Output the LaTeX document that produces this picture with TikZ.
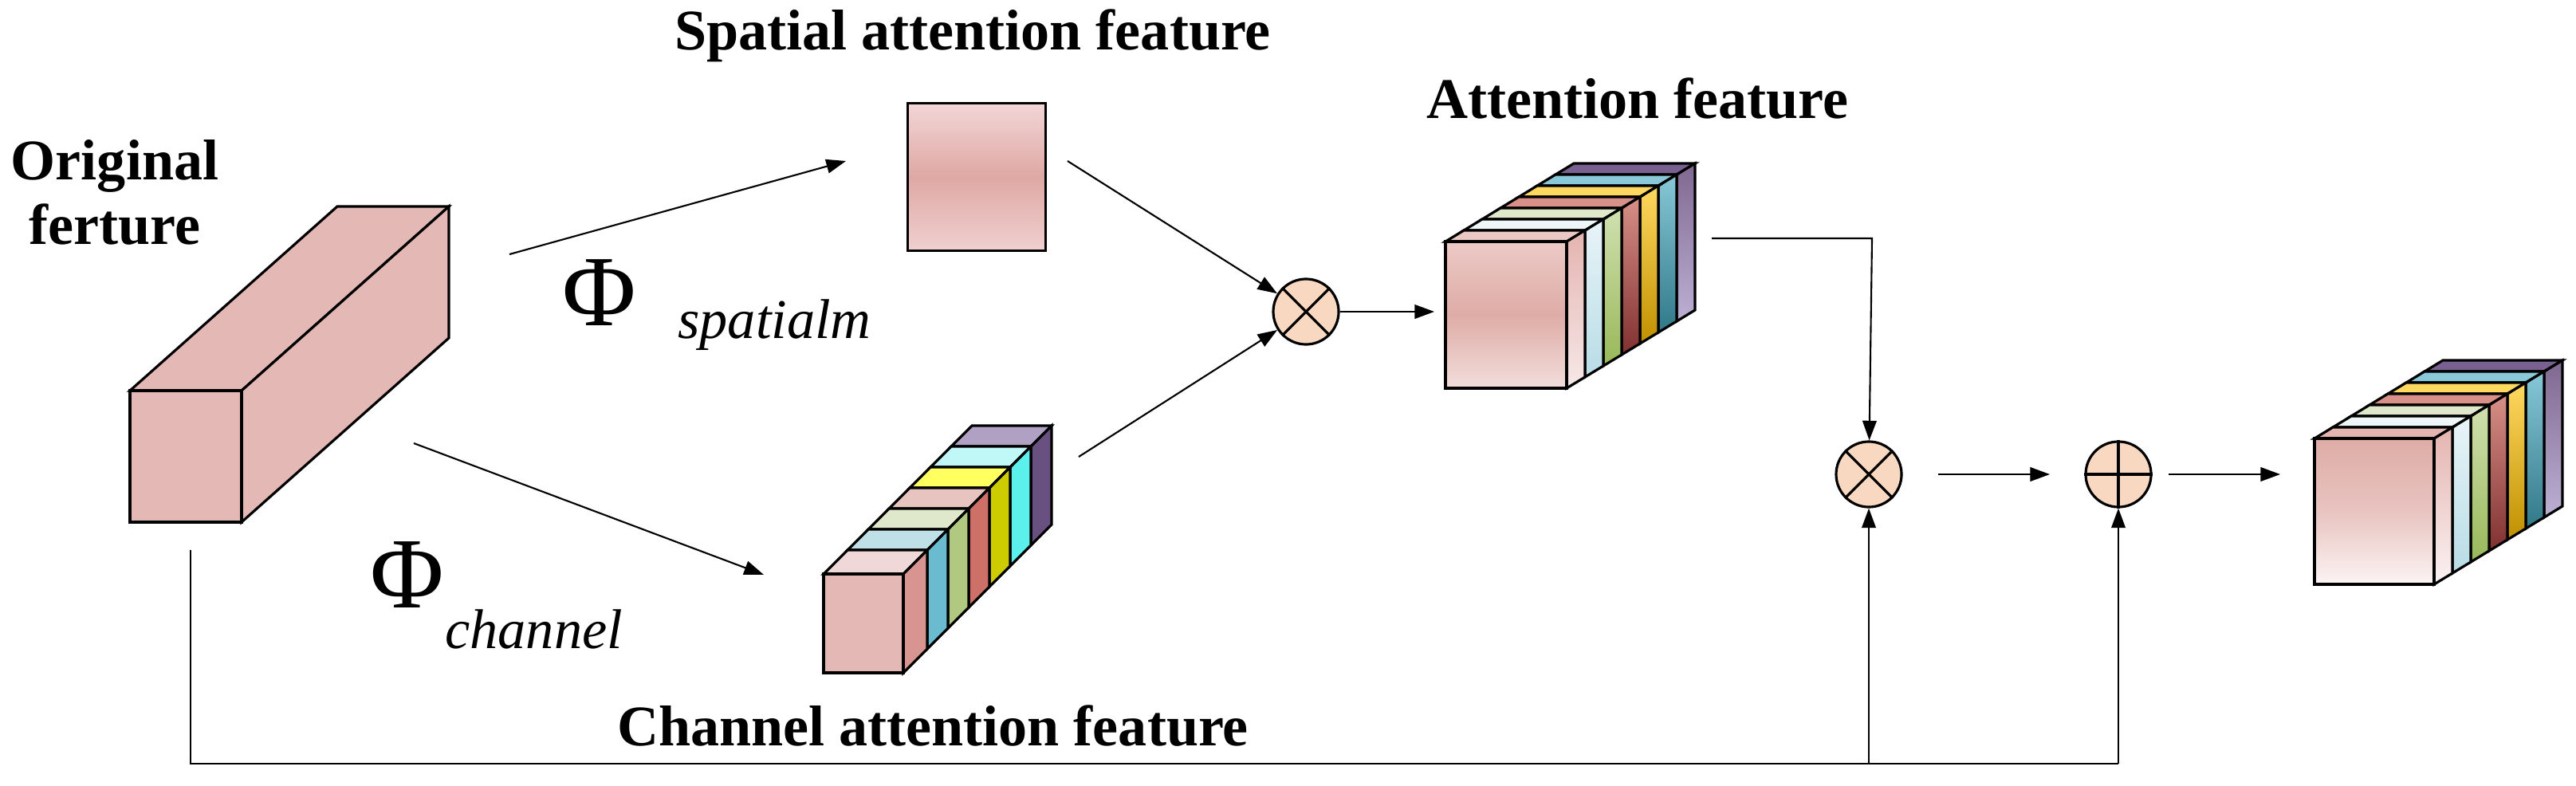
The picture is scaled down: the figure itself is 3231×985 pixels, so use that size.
\documentclass[tikz,border=0pt]{standalone}
\usepackage{fontspec}
\setmainfont{Liberation Serif}
\usetikzlibrary{arrows.meta}
\begin{document}
\begin{tikzpicture}[x=0.01cm,y=-0.01cm,line join=miter,
  ol/.style={line width=0.9pt},
  arr/.style={line width=0.6pt,-{Triangle[length=7pt,width=5pt]}},
  ln/.style={line width=0.6pt},
  op/.style={circle,draw,line width=0.9pt,fill=opc,minimum size=0.82cm,inner sep=0pt},
  lbl/.style={font=\fontsize{20.5}{23}\selectfont\bfseries,align=center}]
\definecolor{opc}{HTML}{F8D8C0}
\definecolor{pk}{HTML}{E4B8B4}
\definecolor{spt}{HTML}{F2D6D6}\definecolor{spb}{HTML}{F0D0D0}\definecolor{spm}{HTML}{DEA8A4}
\definecolor{f1}{HTML}{ECCAC6}\definecolor{f2}{HTML}{F2DEDC}\definecolor{f3}{HTML}{DEACA6}
\definecolor{g1}{HTML}{DEACA6}\definecolor{g2}{HTML}{FBF4F4}\definecolor{g3}{HTML}{E8C4C0}
\newcommand\slab[8]{\begin{scope}[shift={(#1,#2)}]
\definecolor{ca}{HTML}{#7}\definecolor{cb}{HTML}{#8}
\draw[ol,fill=ca] (0,0)--(#3,0)--++(#5,#6)--++(-#3,0)--cycle;
\draw[ol,fill=cb] (#3,0)--(#3,#4)--++(#5,#6)--++(0,-#4)--cycle;
\end{scope}}
\newcommand\gslab[9]{\begin{scope}[shift={(#1,#2)}]
\definecolor{ca}{HTML}{#7}\definecolor{cb}{HTML}{#8}\definecolor{cc}{HTML}{#9}
\draw[ol,fill=ca] (0,0)--(#3,0)--++(#5,#6)--++(-#3,0)--cycle;
\draw[ol,top color=cb,bottom color=cc] (#3,0)--(#3,#4)--++(#5,#6)--++(0,-#4)--cycle;
\end{scope}}
\useasboundingbox (0,0) rectangle (3231,985);
% original feature
\slab{163}{490}{140}{165}{260}{-231}{E4B8B4}{E4B8B4}
\draw[ol,fill=pk] (163,490) rectangle (303,655);
\node[lbl] (orig) at (144,241) {Original\\ferture};
% spatial
\node[draw,ol,minimum width=1.73cm,minimum height=1.85cm,top color=spt,bottom color=spb,middle color=spm] (sp) at (1225,222) {};
\node[lbl] (spl) at (1220,45) {Spatial attention feature};
% channel cube
\slab{1033+160}{720-160}{100}{124}{26}{-26}{B0A0C4}{685080}
\slab{1033+134}{720-134}{100}{124}{26}{-26}{C0F8F8}{5CF0EC}
\slab{1033+108}{720-108}{100}{124}{26}{-26}{FFFF60}{CCCC00}
\slab{1033+82}{720-82}{100}{124}{26}{-26}{E8C4C0}{CC7068}
\slab{1033+56}{720-56}{100}{124}{26}{-26}{E0E8CC}{B0C880}
\slab{1033+30}{720-30}{100}{124}{26}{-26}{C0E0E8}{6ABBD0}
\slab{1033}{720}{100}{124}{30}{-30}{F0D8D8}{D79490}
\draw[ol,fill=pk] (1033,720) rectangle (1133,844);
\node[lbl] (chl) at (1170,911) {Channel attention feature};
% attention cube
\gslab{1813+138}{303-84}{152}{184}{23}{-14}{786090}{806890}{BCB0D4}
\gslab{1813+115}{303-70}{152}{184}{23}{-14}{88C8D8}{88C8D8}{307888}
\gslab{1813+92}{303-56}{152}{184}{23}{-14}{FFD860}{FFD860}{C09000}
\gslab{1813+69}{303-42}{152}{184}{23}{-14}{D89088}{D89088}{803030}
\gslab{1813+46}{303-28}{152}{184}{23}{-14}{E0E8CC}{D0E0B0}{98B858}
\gslab{1813+23}{303-14}{152}{184}{23}{-14}{EEF6F8}{E8F4F8}{B8DCE6}
\gslab{1813}{303}{152}{184}{23}{-14}{ECC8C4}{E4B4B0}{F6E8E8}
\draw[ol,shading angle=135,top color=f1,bottom color=f2,middle color=f3] (1813,303) rectangle (1965,487);
\node[lbl] (atl) at (2054,124) {Attention feature};
% output cube
\gslab{2903+138}{550-84}{150}{183}{23}{-14}{786090}{806890}{BCB0D4}
\gslab{2903+115}{550-70}{150}{183}{23}{-14}{88C8D8}{88C8D8}{307888}
\gslab{2903+92}{550-56}{150}{183}{23}{-14}{FFD860}{FFD860}{C09000}
\gslab{2903+69}{550-42}{150}{183}{23}{-14}{D89088}{D89088}{803030}
\gslab{2903+46}{550-28}{150}{183}{23}{-14}{E0E8CC}{D0E0B0}{98B858}
\gslab{2903+23}{550-14}{150}{183}{23}{-14}{EEF6F8}{E8F4F8}{B8DCE6}
\gslab{2903}{550}{150}{183}{23}{-14}{E4B4B0}{E4B4B0}{FAF2F2}
\draw[ol,shading angle=135,top color=g1,bottom color=g2,middle color=g3] (2903,550) rectangle (3053,733);
% operators
\node[op] (m1) at (1638,391) {};
\draw[ol] (m1.45)--(m1.225) (m1.135)--(m1.315);
\node[op] (m2) at (2344,595) {};
\draw[ol] (m2.45)--(m2.225) (m2.135)--(m2.315);
\node[op] (p1) at (2657,595) {};
\draw[ol] (p1.north)--(p1.south) (p1.west)--(p1.east);
% phi labels
\node[font=\fontsize{36}{40}\selectfont] (phs) at (752,367) {Φ};
\node[font=\fontsize{20}{24}\selectfont\itshape,anchor=west] (phss) at (838,408) {spatialm};
\node[font=\fontsize{36}{40}\selectfont] (phc) at (511,721) {Φ};
\node[font=\fontsize{20}{24}\selectfont\itshape,anchor=west] (phcs) at (546,789) {channel};
% arrows
\coordinate (a1s) at (639,319); \coordinate (a1e) at (1061,202);
\draw[arr] (a1s)--(a1e);
\coordinate (a2s) at (519,556); \coordinate (a2e) at (958,721);
\draw[arr] (a2s)--(a2e);
\coordinate (a3s) at (1339,202); \draw[arr] (a3s)--(m1);
\coordinate (a4s) at (1353,573); \draw[arr] (a4s)--(m1);
\coordinate (a5e) at (1799,391); \draw[arr] (m1)--(a5e);
\coordinate (a6s) at (2147,299); \coordinate (a6c) at (2348,299);
\draw[arr] (a6s)--(a6c)--(m2);
\coordinate (a7s) at (2431,595); \coordinate (a7e) at (2571,595);
\draw[arr] (a7s)--(a7e);
\coordinate (a8s) at (2720,595); \coordinate (a8e) at (2860,595);
\draw[arr] (a8s)--(a8e);
\coordinate (b0) at (239,690); \coordinate (b1) at (239,958);
\coordinate (b2) at (2344,958); \coordinate (b3) at (2657,958);
\draw[ln] (b0)--(b1)--(b3);
\draw[arr] (b3)--(p1);
\draw[arr] (b2)--(m2);
\end{tikzpicture}
\end{document}
